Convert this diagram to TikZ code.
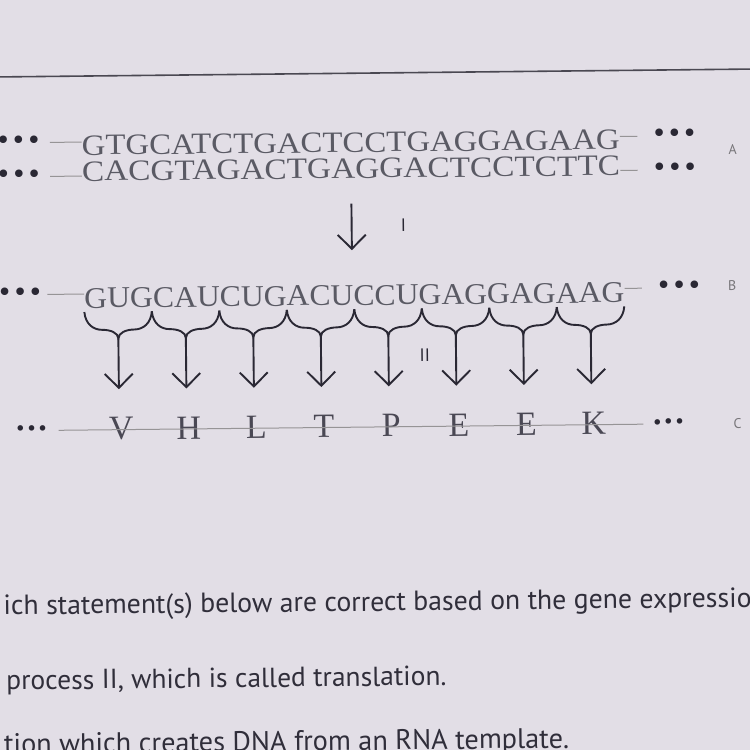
\documentclass[tikz,border=0pt]{standalone}
\usepackage{fontspec}
\usepackage{graphicx}
\setmainfont{Liberation Serif}
\newfontfamily\qsans{PT Sans}
\newfontfamily\dotfont{DejaVu Sans}
\usetikzlibrary{arrows.meta,calc}
\definecolor{bgcol}{RGB}{226,222,230}
\definecolor{dnatext}{RGB}{90,90,100}
\definecolor{aatext}{RGB}{74,72,84}
\definecolor{inkcol}{RGB}{42,40,52}
\definecolor{conncol}{RGB}{150,148,150}
\definecolor{lblcol}{RGB}{120,118,122}
\definecolor{qcol}{RGB}{48,46,58}
\begin{document}
\begin{tikzpicture}[x=1pt,y=-1pt,
  dnarow/.style={inner sep=0pt, anchor=base west, text=dnatext},
  aaletter/.style={inner sep=0pt, anchor=base, text=aatext, font=\fontsize{34}{34}\selectfont},
  bigdots/.style={inner sep=0pt, text=inkcol, font=\dotfont\fontsize{26}{26}\selectfont},
  smalldots/.style={inner sep=0pt, text=inkcol, font=\dotfont\fontsize{19}{19}\selectfont},
  conn/.style={draw=conncol, line width=1pt},
  sidelabel/.style={inner sep=0pt, text=lblcol, font=\qsans\fontsize{14}{14}\selectfont},
  proclabel/.style={inner sep=0pt, text=inkcol, font=\qsans\fontsize{18}{18}\selectfont},
  bracestroke/.style={draw=inkcol, line width=1.9pt},
  arr/.style={draw=inkcol, line width=1.9pt, -{Straight Barb[length=14pt,width=28pt]}},
  qtext/.style={inner sep=0pt, anchor=base west, text=qcol, font=\qsans\fontsize{25}{25}\selectfont},
  rule/.style={draw=inkcol!85, line width=1.6pt}
]
\fill[bgcol] (0,0) rectangle (750,750);
\useasboundingbox (0,0) rectangle (750,750);
\clip (0,0) rectangle (750,750);
\begin{scope}[rotate around={0.6:(375,375)}, transform shape]
% top rule
\draw[rule] (-20,73) -- (770,73);

% ---- row A (DNA double strand)
\node[dnarow] (rowA1) at (84,152) {\resizebox{538pt}{\height}{\fontsize{29.5}{29.5}\selectfont GTGCATCTGACTCCTGAGGAGAAG}};
\node[dnarow] (rowA2) at (84,178) {\resizebox{538pt}{\height}{\fontsize{29.5}{29.5}\selectfont CACGTAGACTGAGGACTCCTCTTC}};
\node[bigdots] (dA1l) at (21,139) {•••};
\node[bigdots] (dA1r) at (677,139) {•••};
\node[bigdots] (dA2l) at (21,173) {•••};
\node[bigdots] (dA2r) at (677,173) {•••};
\draw[conn] ([xshift=8pt]dA1l.east) -- (dA1l.east -| rowA1.west);
\draw[conn] (dA1r.west -| rowA1.east) -- ([xshift=-14pt]dA1r.west);
\draw[conn] ([xshift=8pt]dA2l.east) -- (dA2l.east -| rowA2.west);
\draw[conn] (dA2r.west -| rowA2.east) -- ([xshift=-14pt]dA2r.west);
\node[sidelabel] (labA) at (735,153) {A};

% ---- row B (mRNA)
\node[dnarow] (rowB) at (85,305) {\resizebox{540pt}{\height}{\fontsize{30}{30}\selectfont GUGCAUCUGACUCCUGAGGAGAAG}};
\node[bigdots] (dBl) at (21,291) {•••};
\node[bigdots] (dBr) at (680,291) {•••};
\draw[conn] ([xshift=4pt]dBl.east) -- (dBl.east -| rowB.west);
\draw[conn] (dBr.west -| rowB.east) -- ([xshift=-14pt]dBr.west);
\node[sidelabel] (labB) at (733,289) {B};

% transcription arrow
\draw[arr, shorten <=25pt, shorten >=35pt] (rowA2.south) -- (rowA2.south |- rowB.north);
\node[proclabel] (labI) at (405,225) {I};

% ---- row C (protein)
\foreach \i/\l in {1/V,2/H,3/L,4/T,5/P,6/E,7/E,8/K}{
  \coordinate (k\i) at ($(rowB.base west)+({67.5*\i-33.75},31)$);
  \node[aaletter] (aa\i) at ($(rowB.base west)+({67.5*\i-33.75+2},132)$) {\l};
}
\node[smalldots] (dCl) at (31,427) {•••};
\node[smalldots] (dCr) at (668,427) {•••};
\draw[conn] ([xshift=10pt]dCl.east) -- ([xshift=-8pt]dCr.west);
\node[sidelabel] (labC) at (737,427) {C};

% codon braces and translation arrows
\foreach \i in {1,...,8}{
  \draw[bracestroke]
    ($(k\i)+(-33.75,-27)$) .. controls +(1,12) and +(-9,0) .. ($(k\i)+(-16,-9)$)
    .. controls +(8,0) and +(0,-6) .. (k\i)
    .. controls +(0,-6) and +(-8,0) .. ($(k\i)+(16,-9)$)
    .. controls +(9,0) and +(-1,12) .. ($(k\i)+(33.75,-27)$);
  \draw[arr, shorten >=28pt] (k\i) -- (k\i |- aa\i.north);
}
\node[proclabel] (labII) at (425,356) {II};

% ---- question text
\node[qtext] (q1) at (1,611) {\resizebox{748pt}{!}{ich statement(s) below are correct based on the gene expressio}};
\node[qtext] (q2) at (3,686) {\resizebox{440pt}{!}{process II, which is called translation.}};
\node[qtext] (q3) at (0,750) {\resizebox{565pt}{!}{tion which creates DNA from an RNA template.}};
\end{scope}
\end{tikzpicture}
\end{document}
